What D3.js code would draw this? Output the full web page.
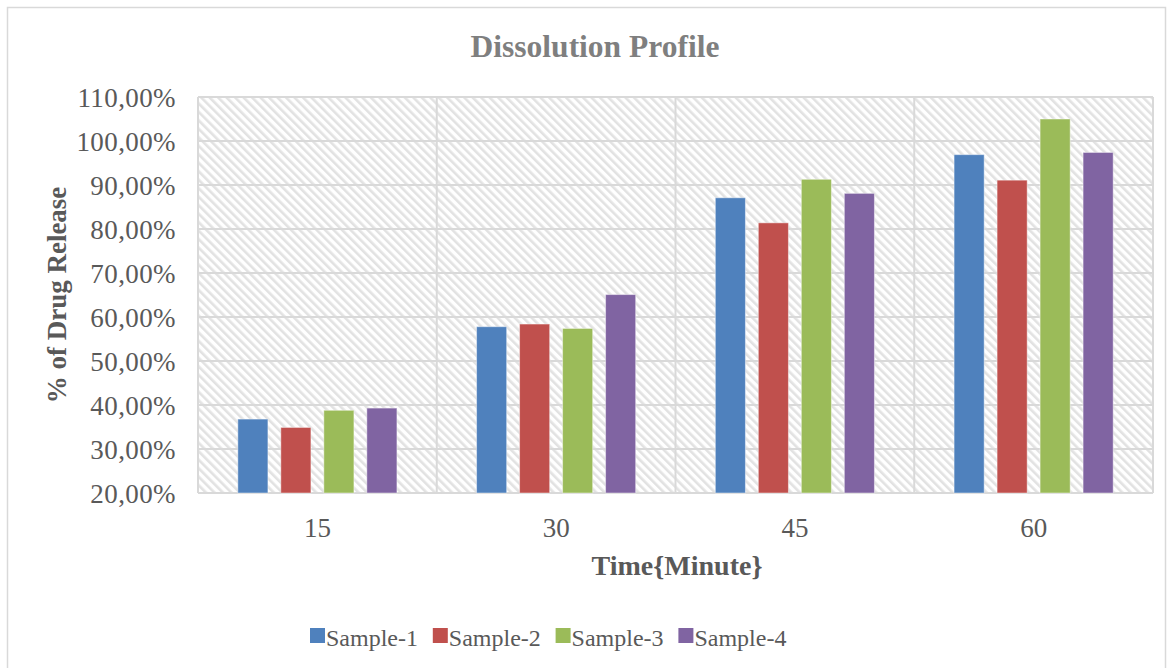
<!DOCTYPE html>
<html>
<head>
<meta charset="utf-8">
<script src="https://cdn.jsdelivr.net/npm/d3@7"></script>
<style>
  html, body { margin: 0; padding: 0; background: #fff; }
  svg { display: block; }
  text { font-family: "Liberation Serif", "Times New Roman", serif; }
</style>
</head>
<body>
<svg id="chart" width="1171" height="668"></svg>
<script>
// Dissolution data: % of drug released at each sampling time
const times = ["15", "30", "45", "60"];
const series = ["Sample-1", "Sample-2", "Sample-3", "Sample-4"];
const sample1 = [36.8, 57.8, 87.1, 96.9];
const sample2 = [34.9, 58.4, 81.4, 91.1];
const sample3 = [38.8, 57.4, 91.3, 105.0];
const sample4 = [39.3, 65.1, 88.1, 97.4];
const colors = ["#4f81bd", "#c0504d", "#9bbb59", "#8064a2"];
const yTicks = [20, 30, 40, 50, 60, 70, 80, 90, 100, 110];

const values = [sample1, sample2, sample3, sample4];

const svg = d3.select("#chart");
const plot = { left: 198, right: 1153, top: 97, bottom: 493 };

// Outer chart frame
svg.append("rect")
  .attr("x", 7.5).attr("y", 7.5)
  .attr("width", 1158).attr("height", 670)
  .attr("fill", "#fff").attr("stroke", "#d9d9d9").attr("stroke-width", 1.5);

// Diagonal hatch used as plot-area fill
const defs = svg.append("defs");
const pat = defs.append("pattern")
  .attr("id", "hatch")
  .attr("patternUnits", "userSpaceOnUse")
  .attr("width", 6).attr("height", 6)
  .attr("patternTransform", "rotate(-45)");
pat.append("rect").attr("width", 6).attr("height", 6).attr("fill", "#ffffff");
pat.append("rect").attr("x", 0).attr("width", 2.6).attr("height", 6).attr("fill", "#e2e2e2");

const x = d3.scaleBand().domain(times).range([plot.left, plot.right]).paddingInner(0).paddingOuter(0);
const xs = d3.scaleBand().domain(series).range([0, x.bandwidth()]).paddingInner(0.3).paddingOuter(0.926);
const y = d3.scaleLinear().domain([20, 110]).range([plot.bottom, plot.top]);

svg.append("rect")
  .attr("x", plot.left).attr("y", plot.top)
  .attr("width", plot.right - plot.left).attr("height", plot.bottom - plot.top)
  .attr("fill", "url(#hatch)");

// Horizontal gridlines
svg.append("g")
  .selectAll("line")
  .data(yTicks)
  .join("line")
  .attr("x1", plot.left).attr("x2", plot.right)
  .attr("y1", d => y(d)).attr("y2", d => y(d))
  .attr("stroke", "#d9d9d9").attr("stroke-width", 2);

// Vertical gridlines at category boundaries
const bounds = times.map(t => x(t)).concat([plot.right]);
svg.append("g")
  .selectAll("line")
  .data(bounds)
  .join("line")
  .attr("x1", d => d).attr("x2", d => d)
  .attr("y1", plot.top).attr("y2", plot.bottom)
  .attr("stroke", "#d9d9d9").attr("stroke-width", 2);

// Bars
const groups = svg.append("g")
  .selectAll("g")
  .data(series)
  .join("g")
  .attr("fill", (d, i) => colors[i]);

groups.selectAll("rect")
  .data((s, si) => times.map((t, ti) => ({ t, s, v: values[si][ti] })))
  .join("rect")
  .attr("x", d => x(d.t) + xs(d.s))
  .attr("width", xs.bandwidth())
  .attr("y", d => y(d.v))
  .attr("height", d => y(20) - y(d.v))
  .attr("stroke", "rgba(255,255,255,0.45)")
  .attr("stroke-width", 1);

// Y axis tick labels
const fmt = v => d3.format(".2f")(v).replace(".", ",") + "%";
const yAxis = d3.axisLeft(y).tickValues(yTicks).tickFormat(fmt).tickSize(0).tickPadding(0);
const yg = svg.append("g").attr("transform", `translate(${176},0)`).call(yAxis);
yg.select(".domain").remove();
yg.selectAll("text")
  .attr("font-family", "Liberation Serif, Times New Roman, serif")
  .attr("font-size", 27).attr("fill", "#595959").attr("dy", "0.36em")
  .attr("letter-spacing", 0.4);

// X axis tick labels
const xAxis = d3.axisBottom(x).tickSize(0).tickPadding(0);
const xg = svg.append("g").attr("transform", `translate(0,${plot.bottom})`).call(xAxis);
xg.select(".domain").remove();
xg.selectAll("text")
  .attr("font-family", "Liberation Serif, Times New Roman, serif")
  .attr("font-size", 27).attr("fill", "#595959").attr("y", 44).attr("dy", 0);

// Titles
svg.append("text")
  .attr("x", 595).attr("y", 57)
  .attr("text-anchor", "middle")
  .attr("font-size", 31.5).attr("font-weight", "bold").attr("fill", "#7f7f7f")
  .text("Dissolution Profile");

svg.append("text")
  .attr("x", 677).attr("y", 575)
  .attr("text-anchor", "middle")
  .attr("font-size", 28).attr("font-weight", "bold").attr("fill", "#595959")
  .text("Time{Minute}");

svg.append("text")
  .attr("transform", "translate(66,295) rotate(-90)")
  .attr("text-anchor", "middle")
  .attr("font-size", 27).attr("font-weight", "bold").attr("fill", "#595959")
  .text("% of Drug Release");

// Legend
const legend = svg.append("g").attr("transform", "translate(310,628)");
const item = legend.selectAll("g")
  .data(series)
  .join("g")
  .attr("transform", (d, i) => `translate(${i * 122.8},0)`);
item.append("rect")
  .attr("width", 15).attr("height", 15)
  .attr("fill", (d, i) => colors[i]);
item.append("text")
  .attr("x", 16).attr("y", 17.5)
  .attr("font-size", 24).attr("fill", "#595959")
  .text(d => d);
</script>
</body>
</html>
